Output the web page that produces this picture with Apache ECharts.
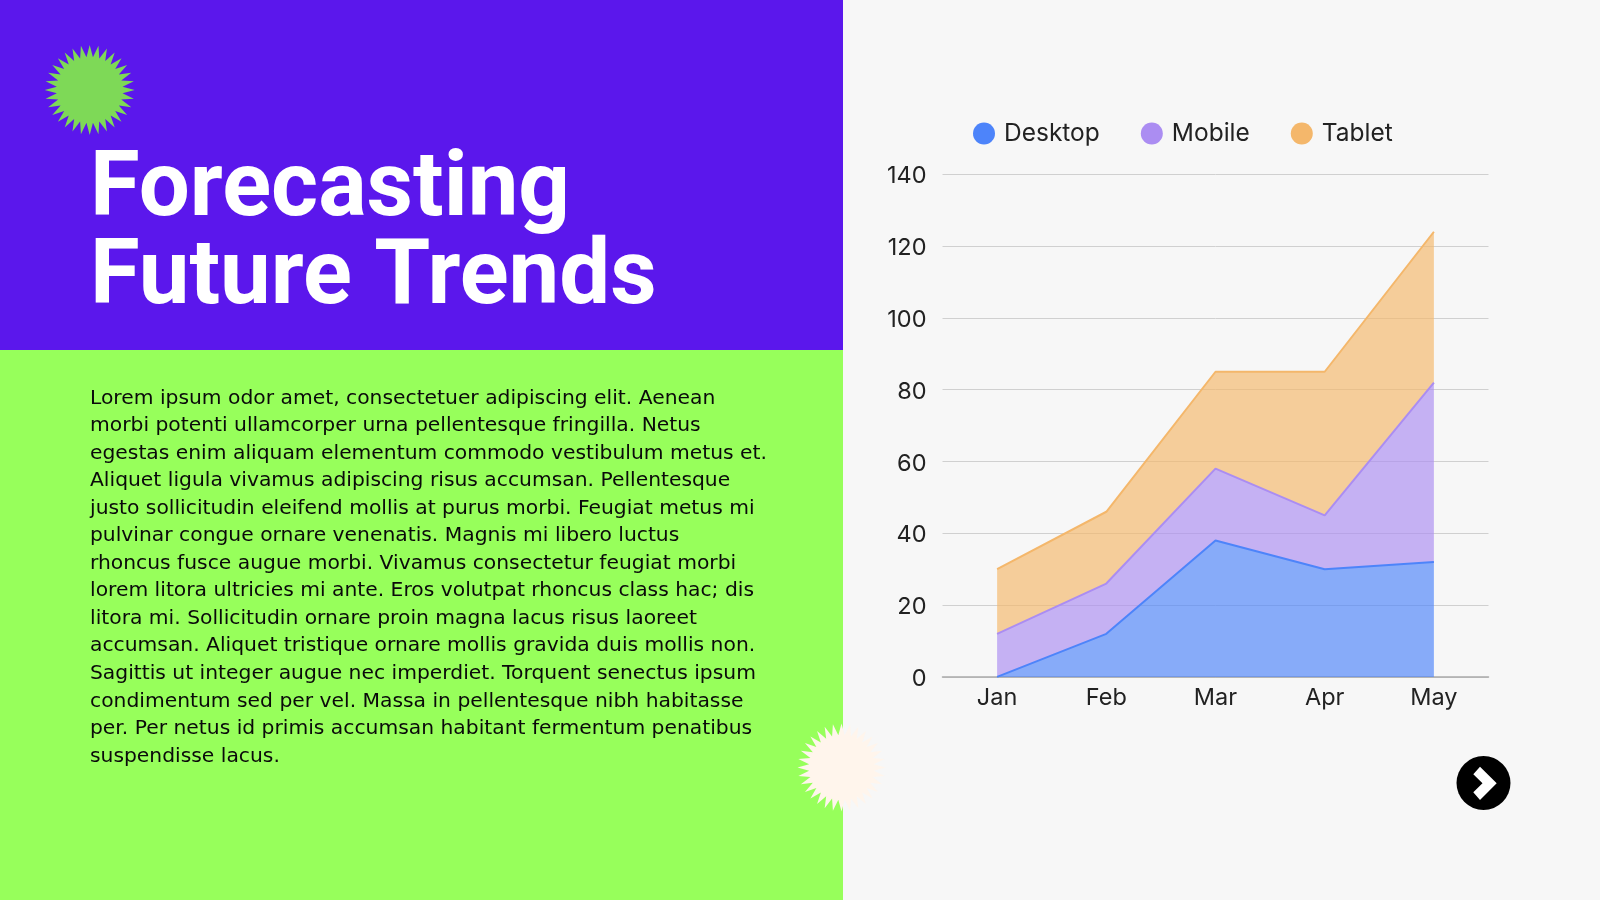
<!DOCTYPE html>
<html><head><meta charset="utf-8">
<style>html,body{margin:0;padding:0;background:#f7f7f7}#c{width:1600px;height:900px}</style>
<script src="https://cdn.jsdelivr.net/npm/echarts@6/dist/echarts.min.js"></script>
</head><body><div id="c"></div>
<script>
const categories = ['Jan','Feb','Mar','Apr','May'];
const desktop = [0,12,38,30,32];
const mobile = [12,14,20,15,50];
const tablet = [18,20,27,40,42];
const titleLines = 'Forecasting\nFuture Trends';
const bodyText = [
'Lorem ipsum odor amet, consectetuer adipiscing elit. Aenean',
'morbi potenti ullamcorper urna pellentesque fringilla. Netus',
'egestas enim aliquam elementum commodo vestibulum metus et.',
'Aliquet ligula vivamus adipiscing risus accumsan. Pellentesque',
'justo sollicitudin eleifend mollis at purus morbi. Feugiat metus mi',
'pulvinar congue ornare venenatis. Magnis mi libero luctus',
'rhoncus fusce augue morbi. Vivamus consectetur feugiat morbi',
'lorem litora ultricies mi ante. Eros volutpat rhoncus class hac; dis',
'litora mi. Sollicitudin ornare proin magna lacus risus laoreet',
'accumsan. Aliquet tristique ornare mollis gravida duis mollis non.',
'Sagittis ut integer augue nec imperdiet. Torquent senectus ipsum',
'condimentum sed per vel. Massa in pellentesque nibh habitasse',
'per. Per netus id primis accumsan habitant fermentum penatibus',
'suspendisse lacus.'
].join('\n');
function burst(cx,cy,ro,ri,n){const p=[];for(let i=0;i<n*2;i++){const r=i%2?ri:ro,a=Math.PI*i/n-Math.PI/2;p.push([cx+r*Math.cos(a),cy+r*Math.sin(a)]);}return p;}
const FONT='Inter';
const chart=echarts.init(document.getElementById('c'));
const mk=(name,data,color)=>({name,type:'line',stack:'total',data,symbol:'none',z:5,
  lineStyle:{color,width:2,opacity:1},itemStyle:{color},areaStyle:{color,opacity:.66}});
chart.setOption({
  animation:false,backgroundColor:'#f7f7f7',
  graphic:[
    {type:'rect',z:0,shape:{x:0,y:0,width:843,height:350},style:{fill:'#5b17ec'}},
    {type:'rect',z:0,shape:{x:0,y:350,width:843,height:550},style:{fill:'#97ff5b'}},
    {type:'polygon',z:1,shape:{points:burst(89.7,90,45,33,32)},style:{fill:'#7ed957'}},
    {type:'polygon',z:1,shape:{points:burst(841.5,767.5,44,32.5,32)},style:{fill:'#fff5ec'}},
    {type:'circle',z:1,shape:{cx:1483.5,cy:783,r:27},style:{fill:'#000'}},
    {type:'polygon',z:2,shape:{points:[[1473.3,774.3],[1480,766.7],[1496.7,783.3],[1480,800],[1473.3,792.3],[1482.5,783.3]]},style:{fill:'#fff'}},
    {type:'text',z:3,x:90,y:148,style:{text:titleLines,fill:'#fff',font:'700 90.5px Roboto',lineHeight:88,textVerticalAlign:'top'}},
    {type:'text',z:3,x:90,y:384.5,style:{text:bodyText,fill:'#0a0a0a',font:'20.3px "DejaVu Sans"',lineHeight:27.55,textVerticalAlign:'top'}}
  ],
  legend:{left:968,top:116,itemWidth:22,itemHeight:22,itemGap:41,icon:'circle',
    data:['Desktop','Mobile','Tablet'],
    textStyle:{fontFamily:FONT,fontSize:24.5,color:'#222',padding:[0,0,0,4]}},
  grid:{left:942.5,top:174.3,width:546,height:502.6,containLabel:false},
  xAxis:{type:'category',data:categories,boundaryGap:true,
    axisLine:{lineStyle:{color:'#aaa',width:1.5}},axisTick:{show:false},
    axisLabel:{fontFamily:FONT,fontSize:23.5,color:'#222',margin:9}},
  yAxis:{type:'value',min:0,max:140,interval:20,
    axisLine:{show:false},axisTick:{show:false},
    splitLine:{lineStyle:{color:'#d0d0d0',width:1}},
    axisLabel:{fontFamily:FONT,fontSize:23.5,color:'#222',margin:16,verticalAlign:'top',lineHeight:4}},
  series:[mk('Desktop',desktop,'#4d84fa'),mk('Mobile',mobile,'#ab8df2'),mk('Tablet',tablet,'#f4b76b')]
});
</script></body></html>
